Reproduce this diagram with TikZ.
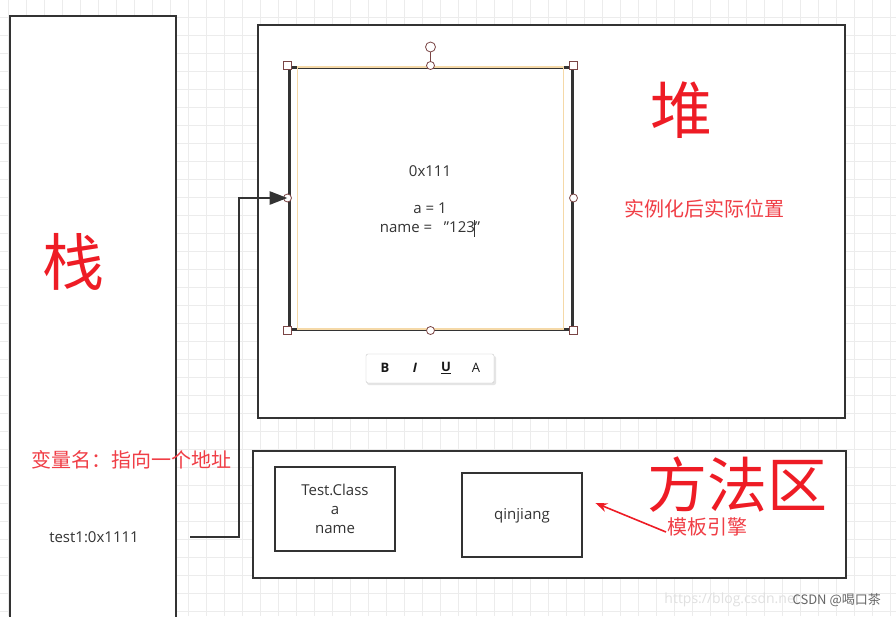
\documentclass[tikz,border=0pt]{standalone}
\usepackage{fontspec}
\setmainfont{Open Sans}
\newfontfamily\cjk{Noto Sans CJK SC}
\usepackage{xcolor}
\usetikzlibrary{arrows.meta,calc,positioning}

\definecolor{boxgray}{HTML}{333333}
\definecolor{hanred}{HTML}{EE1C25}
\definecolor{gridgray}{HTML}{ECECEC}
\definecolor{handlered}{HTML}{7A4545}
\definecolor{selorange}{HTML}{F5D9A8}

\begin{document}
\begin{tikzpicture}[x=1pt, y=-1pt,
	box/.style={draw=boxgray, line width=2.9pt, fill=white, inner sep=0pt},
	handle/.style={draw=handlered, line width=0.8pt, fill=white},
	bigred/.style={text=hanred, font=\cjk\fontsize{62}{62}\selectfont, inner sep=0pt},
	notered/.style={text=hanred!85, font=\cjk\fontsize{20}{22}\selectfont, inner sep=0pt},
	plain/.style={text=boxgray, font=\fontsize{15}{19}\selectfont, align=center, inner sep=0pt},
	tbletter/.style={text=black!90, font=\bfseries\fontsize{13}{13}\selectfont, inner sep=0pt}]
		
		% 1. 画布和背景网格
		\useasboundingbox (0,0) rectangle (896,616);
		\clip (0,0) rectangle (896,616);
		\fill[white] (0,0) rectangle (896,616);
		\foreach \x in {8,26,...,896} \draw[gridgray, line width=0.8pt] (\x,0) -- (\x,616);
		\foreach \y in {-1,17,...,616} \draw[gridgray, line width=0.8pt] (0,\y) -- (896,\y);
		
		% 2. 栈
		\node[box, minimum width=166, minimum height=624] (stack) at (93,328) {};
		\node[bigred] (stacklabel) at (73,262) {栈};
		\node[notered] (varnote) at (131,460) {变量名：指向一个地址};
		\node[plain] (test1) at (94,537) {test1:0x1111};
		
		% 3. 堆 和 选中的对象
		\node[box, minimum width=587, minimum height=393] (heap) at (551.5,221.5) {};
		\node[box, line width=3pt, minimum width=283, minimum height=262] (obj) at (430.5,198) {};
		\draw[selorange, line width=1.4pt] ($(obj.north west)+(10,1.5)$) rectangle ($(obj.south east)+(-10,-1.5)$);
		\node[plain, align=center] (objtext) at (430,199) {0x111\\[1.2em]a = 1\\name = \ \ "123"};
		\draw[boxgray, line width=0.8pt] (474,220) -- (474,237); % 光标
		\node[bigred] (heaplabel) at (681,110) {堆};
		\node[notered] (heapnote) at (704,209) {实例化后实际位置};
		
		% 选中框的控制点
		\draw[handlered, line width=0.8pt] (obj.north) -- (430.5,52);
		\draw[handle] (430.5,47) circle (5pt);
		\foreach \c in {north west, north east, south west, south east}
			\draw[handle] ($(obj.\c)+(-4,-4)$) rectangle ($(obj.\c)+(4,4)$);
		\foreach \c in {north, south, west, east}
			\draw[handle] (obj.\c) circle (4pt);
		
		% 4. 文字工具栏
		\fill[black!10, rounded corners=2pt] (367,356) rectangle (496,385);
		\node[draw=black!22, fill=white, rounded corners=2pt, minimum width=128, minimum height=29,
			inner sep=0pt] (toolbar) at (430,368.5) {};
		\node[tbletter] (tbB) at (385,368) {B};
		\node[tbletter, font=\bfseries\itshape\fontsize{13}{13}\selectfont] (tbI) at (415,368) {I};
		\node[tbletter] (tbU) at (446,368) {\underline{U}};
		\node[tbletter, font=\fontsize{13}{13}\selectfont] (tbA) at (476,368) {A};
		
		% 5. 方法区
		\node[box, minimum width=593, minimum height=127] (method) at (549.5,514.5) {};
		\node[box, minimum width=120, minimum height=84] (classbox) at (335,509) {};
		\node[plain, align=center] (classtext) at (335,509) {Test.Class\\a\\name};
		\node[box, minimum width=120, minimum height=84] (tplbox) at (522,515) {};
		\node[plain] (tpltext) at (522,516) {qinjiang};
		\node[bigred, font=\cjk\fontsize{60}{60}\selectfont] (methodlabel) at (737,485) {方法区};
		\node[notered] (tplnote) at (707,527) {模板引擎};
		\coordinate (tpltail) at (666,532);
		\draw[hanred, line width=1.6pt, -{Stealth[length=12pt, width=9pt]}] (tpltail) -- ($(tplbox.east)+(12,-12)$);
		
		% 6. 引用箭头 (栈 -> 堆)
		\coordinate (ref) at (190,537);
		\draw[boxgray, line width=2.9pt, -{Triangle[length=18pt, width=13pt]}]
			(ref) -- ++(49,0) |- (obj.west);
		
		% 7. 水印
		\node[text=black!12, font=\fontsize{14}{14}\selectfont, anchor=east, inner sep=0pt] (url) at (800,600) {https://blog.csdn.net};
		\node[text=black!60, font=\cjk\fontsize{13}{13}\selectfont, anchor=east, inner sep=0pt] (mark) at (881,600) {CSDN @喝口茶};
		
	\end{tikzpicture}
\end{document}
